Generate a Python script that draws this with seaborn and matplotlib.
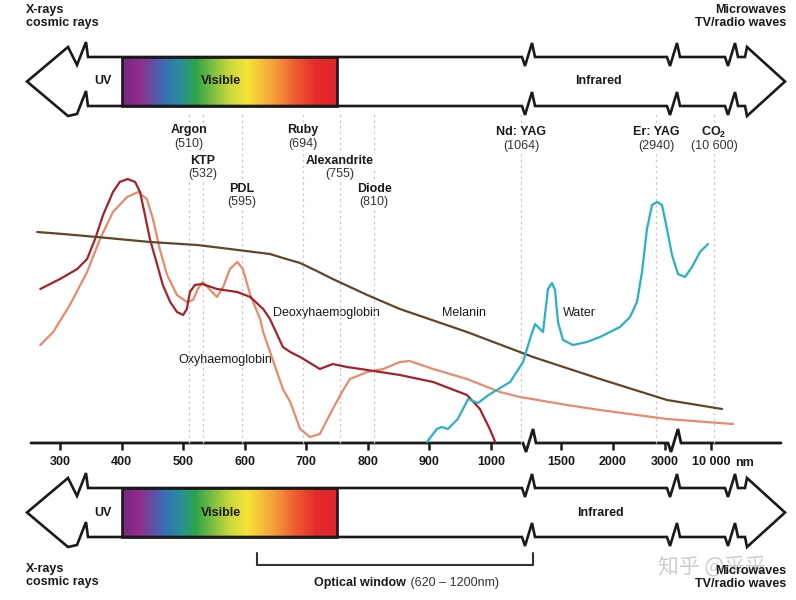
import numpy as np
import pandas as pd
import matplotlib
matplotlib.use("Agg")
import matplotlib.pyplot as plt
import seaborn as sns
from matplotlib.transforms import blended_transform_factory
from matplotlib.colors import LinearSegmentedColormap
from matplotlib.patches import Polygon, Rectangle

# ---------------- data ----------------
oxy_wl = [268, 289, 316, 344, 365, 386, 409, 427, 441, 451, 462, 474, 490, 506, 516, 524, 532, 544, 555, 565,
          576, 588, 597, 609, 625, 630, 662, 674, 690, 706, 722, 743, 758, 771, 799, 825, 852, 868, 906, 961,
          1019, 1062, 1558, 1875, 3304, 14480]
oxy_abs = [98, 111, 138, 171, 204, 231, 246, 251, 244, 224, 194, 168, 148, 141, 143, 154, 161, 153, 146, 156,
           174, 181, 174, 148, 124, 111, 54, 41, 14, 6, 9, 34, 51, 64, 71, 74, 81, 82, 74, 64,
           51, 46, 38, 33, 24, 19]

deoxy_wl = [268, 300, 328, 344, 357, 370, 386, 397, 410, 422, 430, 438, 446, 458, 467, 479, 490, 500, 506, 511,
            519, 531, 555, 588, 609, 630, 641, 662, 674, 690, 722, 743, 766, 799, 852, 906, 961, 982, 998, 1009]
deoxy_abs = [154, 164, 174, 184, 204, 228, 251, 261, 264, 261, 251, 228, 204, 178, 158, 141, 131, 128, 134, 151,
             158, 159, 154, 151, 146, 134, 124, 96, 91, 86, 74, 79, 76, 73, 68, 61, 48, 34, 14, 1]

mel_wl = [263, 305, 360, 446, 523, 576, 641, 662, 690, 717, 743, 771, 799, 852, 961, 1195, 1875, 3304, 12235]
mel_abs = [211, 209, 206, 201, 198, 194, 189, 185, 180, 172, 164, 156, 148, 134, 111, 86, 64, 43, 34]

water_wl = [896, 912, 920, 930, 946, 963, 979, 996, 1041, 1086, 1162, 1217, 1271, 1304, 1358, 1402, 1435, 1467,
            1519, 1615, 1750, 1875, 2153, 2372, 2525, 2634, 2743, 2853, 2947, 2980, 3304, 4065, 4978, 6044,
            7109, 8326, 9543]
water_abs = [1, 14, 16, 14, 24, 44, 40, 48, 61, 81, 104, 119, 114, 111, 154, 160, 153, 121, 103, 98, 101, 106,
             116, 126, 141, 171, 214, 238, 241, 238, 214, 188, 169, 166, 176, 191, 199]

substances = ["Oxyhaemoglobin", "Deoxyhaemoglobin", "Melanin", "Water"]

laser_names = ["Argon", "KTP", "PDL", "Ruby", "Alexandrite", "Diode", "Nd: YAG", "Er: YAG", r"CO$_\mathbf{2}$"]
laser_wl = [510, 532, 595, 694, 755, 810, 1064, 2940, 10600]
laser_values = ["(510)", "(532)", "(595)", "(694)", "(755)", "(810)", "(1064)", "(2940)", "(10 600)"]

tick_wl = [300, 400, 500, 600, 700, 800, 900, 1000, 1500, 2000, 3000, 10000]
tick_labels = ["300", "400", "500", "600", "700", "800", "900", "1000", "1500", "2000", "3000", "10 000"]

visible_range = [400, 750]
optical_window = [620, 1200]

# ---------------- broken wavelength scale (nm -> horizontal position) ----------------
WL_ANCH = np.array([100, 300, 1000, 1064, 1500, 2000, 2940, 3000, 10000, 10600, 20000, 40000], float)
POS_ANCH = np.array([-63.1, 60, 491, 521, 561, 613, 656, 665, 711, 714, 760, 850], float)


def fwd(x):
    return np.interp(x, WL_ANCH, POS_ANCH)


def inv(p):
    return np.interp(p, POS_ANCH, WL_ANCH)


# ---------------- styling ----------------
sns.set_theme(style="white")
plt.rcParams["font.family"] = ["Liberation Sans", "DejaVu Sans"]
plt.rcParams["mathtext.fontset"] = "custom"
plt.rcParams["mathtext.rm"] = "Liberation Sans"
plt.rcParams["mathtext.bf"] = "Liberation Sans:bold"

colors = {"Oxyhaemoglobin": "#e98a6c", "Deoxyhaemoglobin": "#a2232b",
          "Melanin": "#604628", "Water": "#2ab0c6"}
INK = "#1a1a1a"
FS = 9

fig = plt.figure(figsize=(7.96, 6.0), dpi=100)
W, H = 796, 600

# layout axes (pixel-like units) for the decorative parts
lay = fig.add_axes([0, 0, 1, 1])
lay.axis("off")

# data axes with the broken wavelength scale
ax = fig.add_axes([0, 0, 1, 1], facecolor="none")
ax.set_xscale("function", functions=(fwd, inv))
BASE = 443  # vertical position of the wavelength axis
ax.set_xlim(inv(0), inv(W))
ax.set_ylim(BASE - H, BASE)


def zig(x0, y):
    return [(x0, y), (x0 + 3, y + 9), (x0 + 10, y - 14), (x0 + 13, y)]


def band(top, bot, labels):
    mid = (top + bot) / 2
    breaks = [522, 667, 725]
    pts = [(27, mid), (68, top - 10), (77, top + 8), (86, top - 15), (88, top)]
    for b in breaks:
        pts += zig(b, top)
    pts += [(745, top), (747, top - 10), (785, mid), (747, bot + 10), (745, bot)]
    for b in reversed(breaks):
        pts += list(reversed(zig(b, bot)))
    pts += [(88, bot), (86, bot - 15), (77, bot + 8), (68, bot + 10)]
    lay.add_patch(Polygon(pts, closed=True, fc="white", ec="none", zorder=1))
    x0, x1 = fwd(visible_range[0]), fwd(visible_range[1])
    cmap = LinearSegmentedColormap.from_list("spec", [
        (0.0, "#7a2784"), (0.08, "#922c8e"), (0.2, "#3671b6"), (0.27, "#2a8d9a"),
        (0.34, "#2ea44a"), (0.5, "#cbd83a"), (0.58, "#f6e43a"), (0.7, "#f5a23a"),
        (0.8, "#ee5e30"), (0.9, "#e52b2b"), (1.0, "#e2252a")])
    grad = np.linspace(0, 1, 256)[None, :]
    lay.imshow(grad, extent=[x0, x1, bot, top], aspect="auto", cmap=cmap, zorder=2, interpolation="bilinear")
    lay.add_patch(Polygon(pts, closed=True, fc="none", ec=INK, lw=1.9, joinstyle="miter", zorder=3))
    lay.add_patch(Rectangle((x0, top), x1 - x0, bot - top, fc="none", ec=INK, lw=1.9, zorder=3))
    for txt, x in labels:
        lay.text(x, mid, txt, ha="center", va="center", fontsize=FS, fontweight="bold", color=INK, zorder=4)


band(57, 106, [("UV", 103), ("Visible", 221), ("Infrared", 598)])
band(488, 537, [("UV", 103), ("Visible", 221), ("Infrared", 600)])

# wavelength axis line with breaks
axis_pts = [(31, BASE)] + zig(523, BASE) + zig(668, BASE) + [(781, BASE)]
xs, ys = zip(*axis_pts)
lay.plot(xs, ys, color=INK, lw=2.0, solid_joinstyle="miter", zorder=3)
lay.text(735, 463, "nm", ha="left", va="center", fontsize=FS, fontweight="bold", color=INK)

lay.set_xlim(0, W)
lay.set_ylim(H, 0)

# laser dotted guide lines
ax.vlines(laser_wl, 0, BASE - 112, colors="#c9c9c9", linestyles=(0, (2, 2.5)), lw=0.9, zorder=0)

# absorption curves
frames = []
for name, wl, ab in [("Oxyhaemoglobin", oxy_wl, oxy_abs), ("Deoxyhaemoglobin", deoxy_wl, deoxy_abs),
                     ("Melanin", mel_wl, mel_abs), ("Water", water_wl, water_abs)]:
    frames.append(pd.DataFrame({"wavelength": wl, "absorption": ab, "substance": name}))
df = pd.concat(frames, ignore_index=True)
sns.lineplot(data=df, x="wavelength", y="absorption", hue="substance", hue_order=substances,
             palette=colors, estimator=None, sort=False, legend=False, lw=1.6, ax=ax, zorder=2)
ax.set_xlabel("")
ax.set_ylabel("")
ax.set_xlim(inv(0), inv(W))
ax.set_ylim(BASE - H, BASE)

# ticks via the axis (spine position first: it resets the ticks)
for sp in ax.spines.values():
    sp.set_visible(False)
ax.spines["bottom"].set_position(("data", 0))
ax.grid(False)
ax.set_yticks([])
ax.set_xticks(tick_wl)
ax.set_xticklabels(tick_labels)
ax.xaxis.set_minor_locator(matplotlib.ticker.NullLocator())
ax.tick_params(axis="x", direction="out", length=5, width=1.8, color=INK, pad=4.5, bottom=True,
               labelsize=FS, labelcolor=INK)
for lbl in ax.get_xticklabels():
    lbl.set_fontweight("bold")

# laser labels
trans = blended_transform_factory(ax.transData, lay.transData)
name_y = [130, 161, 189, 130, 161, 189, 132, 132, 132]
for nm_, wl, val, y in zip(laser_names, laser_wl, laser_values, name_y):
    bb = dict(fc="white", ec="none", pad=0.6)
    ax.text(wl, y, nm_, transform=trans, ha="center", va="center", fontsize=FS, fontweight="bold",
            color=INK, bbox=bb, zorder=3)
    ax.text(wl, y + 13.5, val, transform=trans, ha="center", va="center", fontsize=FS,
            color="#333333", bbox=bb, zorder=3)

# curve labels
for txt, x, y in [("Deoxyhaemoglobin", 326, 313), ("Oxyhaemoglobin", 225, 360),
                  ("Melanin", 464, 313), ("Water", 579, 313)]:
    lay.text(x, y, txt, ha="center", va="center", fontsize=FS, color=INK, zorder=5)

# optical window bracket
ox0, ox1 = fwd(optical_window[0]), fwd(optical_window[1])
lay.plot([ox0, ox0, ox1, ox1], [553, 565, 565, 553], color="#333333", lw=1.5, zorder=3)
lay.text(406, 583, "Optical window", ha="right", va="center", fontsize=FS, fontweight="bold", color=INK)
lay.text(407, 583, " (620 \u2013 1200nm)", ha="left", va="center", fontsize=FS, color="#333333")

# spectrum end labels
end_kw = dict(fontsize=FS, fontweight="bold", color=INK, linespacing=1.12, va="top")
lay.text(26, 4, "X-rays\ncosmic rays", ha="left", **end_kw)
lay.text(786, 4, "Microwaves\nTV/radio waves", ha="right", multialignment="right", **end_kw)
lay.text(26, 563, "X-rays\ncosmic rays", ha="left", **end_kw)

# watermark
lay.text(712, 566, "知乎 @采采", ha="center", va="center", fontsize=15, color="#cdcdcd",
         family=["Noto Sans CJK SC", "DejaVu Sans"], zorder=4)
lay.text(786, 565, "Microwaves\nTV/radio waves", ha="right", multialignment="right", zorder=5, **end_kw)

fig.savefig("out.png", dpi=100)
